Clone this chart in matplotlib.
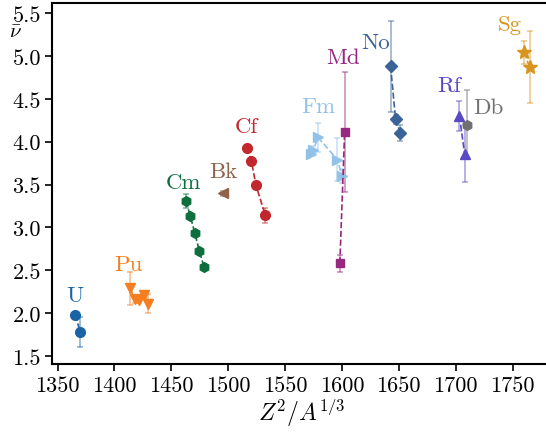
import numpy as np
import matplotlib
matplotlib.use("Agg")
import matplotlib.pyplot as plt
from matplotlib.ticker import FormatStrFormatter

plt.rcParams["font.family"] = "serif"
plt.rcParams["font.serif"] = ["cmr10", "DejaVu Serif"]
plt.rcParams["mathtext.fontset"] = "cm"
plt.rcParams["axes.unicode_minus"] = False

# mean neutron multiplicity per element, x = Z^2/A^(1/3)
elements = ["U", "Pu", "Cm", "Bk", "Cf", "Fm", "Md", "No", "Rf", "Db", "Sg"]

x_U = [1365.8, 1369.8]
nu_U = [1.98, 1.78]
err_U = [0.02, 0.18]

x_Pu = [1413.9, 1417.8, 1421.9, 1425.8, 1429.7]
nu_Pu = [2.29, 2.16, 2.15, 2.21, 2.11]
err_Pu = [0.19, 0.04, 0.03, 0.05, 0.11]

x_Cm = [1462.9, 1466.8, 1470.8, 1474.8, 1478.8]
nu_Cm = [3.31, 3.13, 2.93, 2.72, 2.54]
err_Cm = [0.08, 0.02, 0.02, 0.02, 0.02]

x_Bk = [1495.6]
nu_Bk = [3.40]
err_Bk = [0.03]

x_Cf = [1516.5, 1520.5, 1524.5, 1532.7]
nu_Cf = [3.93, 3.77, 3.49, 3.14]
err_Cf = [0.02, 0.02, 0.02, 0.09]

x_Fm = [1572.8, 1574.8, 1579.1, 1595.9, 1600.3]
nu_Fm = [3.86, 3.90, 4.05, 3.79, 3.60]
err_Fm = [0.03, 0.05, 0.17, 0.25, 0.08]

x_Md = [1598.2, 1602.4]
nu_Md = [2.58, 4.11]
err_Md = [0.10, 0.70]

x_No = [1642.8, 1647.2, 1651.4]
nu_No = [4.88, 4.26, 4.10]
err_No = [0.53, 0.05, 0.09]

x_Rf = [1703.3, 1707.9]
nu_Rf = [4.30, 3.86]
err_Rf = [0.17, 0.33]

x_Db = [1710.4]
nu_Db = [4.20]
err_Db = [0.40]

x_Sg = [1760.3, 1765.0]
nu_Sg = [5.04, 4.87]
err_Sg = [0.13, 0.42]

xs = [x_U, x_Pu, x_Cm, x_Bk, x_Cf, x_Fm, x_Md, x_No, x_Rf, x_Db, x_Sg]
nus = [nu_U, nu_Pu, nu_Cm, nu_Bk, nu_Cf, nu_Fm, nu_Md, nu_No, nu_Rf, nu_Db, nu_Sg]
errs = [err_U, err_Pu, err_Cm, err_Bk, err_Cf, err_Fm, err_Md, err_No, err_Rf, err_Db, err_Sg]

colors = ["#1a64a6", "#f57f20", "#0d6e3e", "#8f6249", "#c1272d", "#92c2e8",
          "#97287f", "#3b6397", "#5849c4", "#707070", "#d8941e"]
markers = ["o", "v", "h", "<", "o", ">", "s", "D", "^", "h", "*"]
sizes = [7, 7.5, 7, 6.5, 7, 7.5, 6, 6.5, 7.5, 7, 10]

# where the element names go (data coords)
label_x = [1365.4, 1412, 1460.4, 1495.6, 1515.8, 1579, 1601, 1630, 1694, 1728.5, 1748]
label_y = [2.21, 2.57, 3.53, 3.66, 4.18, 4.41, 4.99, 5.16, 4.66, 4.40, 5.37]

fig = plt.figure(figsize=(5.46, 4.35), dpi=100)
ax = fig.add_axes([52 / 546, 1 - 365 / 435, 500 / 546, (365 - 4) / 435])

for i, el in enumerate(elements):
    c = colors[i]
    ax.errorbar(xs[i], nus[i], yerr=errs[i], fmt="none", ecolor=c, alpha=0.5,
                elinewidth=1.2, capsize=2.5, capthick=1.2, zorder=2)
    ax.plot(xs[i], nus[i], ls="--", lw=1.2, color=c, marker=markers[i],
            ms=sizes[i], mec=c, mfc=c, zorder=3)
    ax.text(label_x[i], label_y[i], el, color=c, fontsize=16.5,
            ha="center", va="center")

ax.set_xlim(1345.16, 1784.7)
ax.set_ylim(1.407, 5.617)
ax.set_xticks(np.arange(1350, 1751, 50))
ax.set_yticks(np.arange(1.5, 5.51, 0.5))
ax.yaxis.set_major_formatter(FormatStrFormatter("%.1f"))
ax.tick_params(labelsize=16, length=5, width=1.2, direction="out", pad=3)
for sp in ax.spines.values():
    sp.set_linewidth(1.5)

ax.set_xlabel(r"$Z^2/A^{1/3}$", fontsize=17, labelpad=1)
fig.text(15 / 546, 1 - 24 / 435, r"$\bar{\nu}$", fontsize=15, ha="center", va="top")

fig.savefig("out.png", dpi=100)
